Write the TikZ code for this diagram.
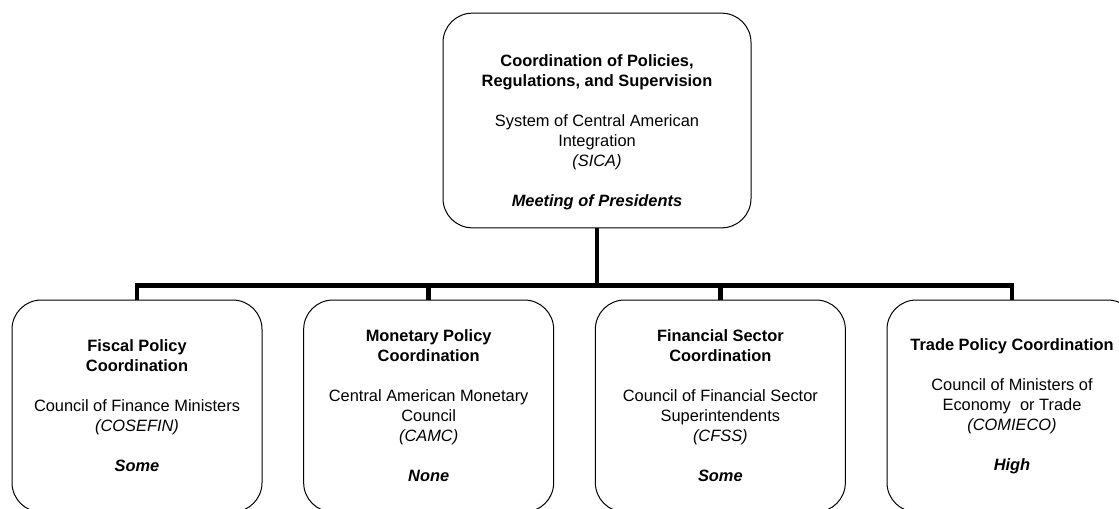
\documentclass[tikz,border=0pt]{standalone}
\usepackage{fontspec}
\setmainfont{Liberation Sans}
\usetikzlibrary{positioning}

\tikzset{
  council/.style={draw, line width=0.75pt, rounded corners=22pt,
    minimum width=187.5pt, minimum height=159pt, inner sep=0pt,
    align=center, font=\fontsize{12.3}{15}\selectfont},
  info/.style={align=center, inner sep=0pt, font=\fontsize{12.3}{15}\selectfont},
  bus/.style={line width=3.4pt}
}

\begin{document}
\begin{tikzpicture}[x=0.75pt, y=-0.75pt, node distance=30.5pt]
        % page
        \clip (0,0) rectangle (1119,508);
        % top level
        \node[council, minimum width=231pt, minimum height=161pt] (sica) at (597,120.5) {};
        \node[info] (sicatext) at (597,132) {\textbf{Coordination of Policies,}\\
            \textbf{Regulations, and Supervision}\\[15pt]
            System of Central American\\ Integration\\ \textit{(SICA)}\\[15pt]
            \textbf{\textit{Meeting of Presidents}}};
        % councils
        \node[council] (fiscal) at (137,406) {\textbf{Fiscal Policy}\\ \textbf{Coordination}\\[15pt]
            Council of Finance Ministers\\ \textit{(COSEFIN)}\\[15pt] \textbf{\textit{Some}}};
        \node[council, right=of fiscal] (monetary) {\textbf{Monetary Policy}\\ \textbf{Coordination}\\[15pt]
            Central American Monetary\\ Council\\ \textit{(CAMC)}\\[15pt] \textbf{\textit{None}}};
        \node[council, right=of monetary] (financial) {\textbf{Financial Sector}\\ \textbf{Coordination}\\[15pt]
            Council of Financial Sector\\ Superintendents\\ \textit{(CFSS)}\\[15pt] \textbf{\textit{Some}}};
        \node[council, right=of financial] (trade) {\textbf{Trade Policy Coordination}\\[15pt]
            Council of Ministers of\\ Economy\ \ or Trade\\ \textit{(COMIECO)}\\[15pt] \textbf{\textit{High}}};
        % links
        \path (sica.south) ++(0,57) coordinate (split);
        \draw[bus] (sica.south) -- (split);
        \foreach \b in {fiscal, monetary, financial, trade}
            \draw[bus] (split) -| (\b.north);
    \end{tikzpicture}
\end{document}
